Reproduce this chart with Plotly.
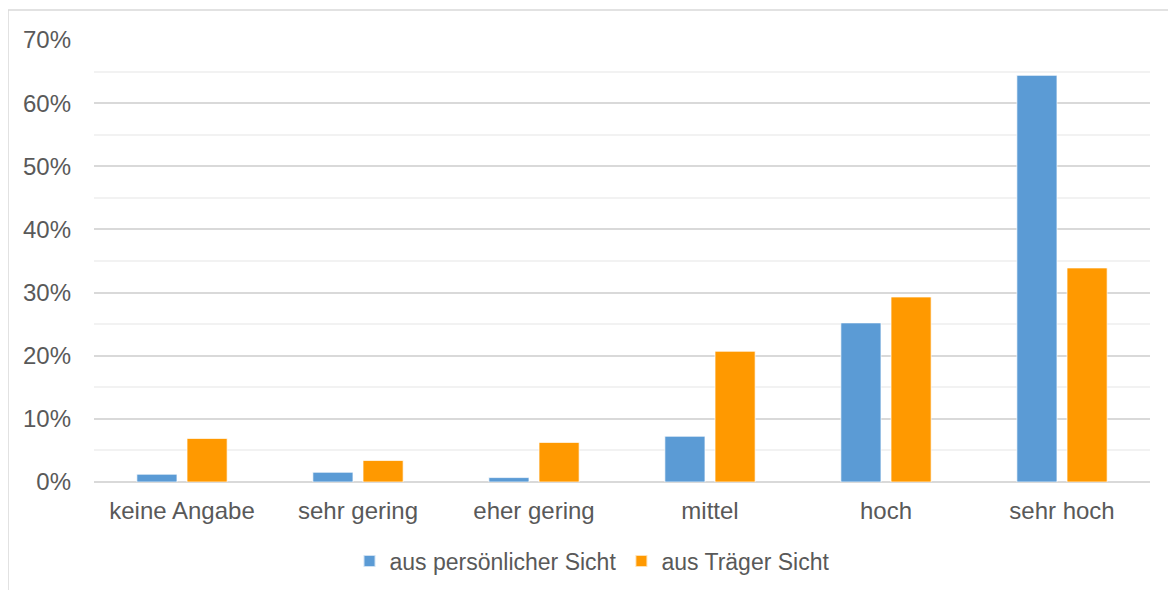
import plotly.graph_objects as go

categories = ["keine Angabe", "sehr gering", "eher gering", "mittel", "hoch", "sehr hoch"]
persoenlich = [0.0123, 0.0154, 0.0070, 0.0724, 0.2520, 0.6440]
traeger = [0.0690, 0.0340, 0.0627, 0.2070, 0.2930, 0.3390]
series_names = ["aus persönlicher Sicht", "aus Träger Sicht"]
y_ticks = [0, 0.1, 0.2, 0.3, 0.4, 0.5, 0.6, 0.7]

FONT = "Liberation Sans, Arial, sans-serif"
TXT = "#595959"
FS = 24

fig = go.Figure()
fig.add_trace(go.Bar(x=categories, y=persoenlich, name=series_names[0],
                     marker=dict(color="#5B9BD5", line=dict(color="rgba(255,255,255,0.7)", width=1))))
fig.add_trace(go.Bar(x=categories, y=traeger, name=series_names[1],
                     marker=dict(color="#FF9900", line=dict(color="rgba(255,255,255,0.7)", width=1))))

# page body has an 8px margin, so the figure is 8px smaller and margins shifted
fig.update_layout(
    width=1168, height=582,
    margin=dict(l=86, r=26, t=32, b=108, autoexpand=False),
    paper_bgcolor="white", plot_bgcolor="white",
    barmode="group", bargap=0.43, bargroupgap=0.2,
    font=dict(family=FONT, size=FS, color=TXT),
    showlegend=True,
    legend=dict(orientation="h", x=0.4716, xanchor="center", y=-0.179, yanchor="middle",
                font=dict(family=FONT, size=23, color=TXT), itemsizing="constant"),
    xaxis=dict(showgrid=False, showline=False, ticks="", ticklabelstandoff=12,
               automargin=False, tickfont=dict(size=FS, color=TXT)),
    yaxis=dict(range=[0, 0.7], tickvals=y_ticks, tickformat=".0%",
               showgrid=True, gridcolor="#d9d9d9", gridwidth=1.5,
               zeroline=True, zerolinecolor="#d9d9d9", zerolinewidth=2,
               showline=False, ticks="", ticklabelstandoff=22, automargin=False,
               tickfont=dict(size=FS, color=TXT),
               minor=dict(dtick=0.05, showgrid=True, gridcolor="#f2f2f2", gridwidth=1.5)),
    shapes=[dict(type="rect", xref="paper", yref="paper",
                 x0=-86/1056, x1=(1170-94)/1056, y0=-0.35, y1=(482-10)/442,
                 line=dict(color="#d9d9d9", width=1.5), fillcolor="rgba(0,0,0,0)", layer="below")],
)

fig.write_html("out.html")
